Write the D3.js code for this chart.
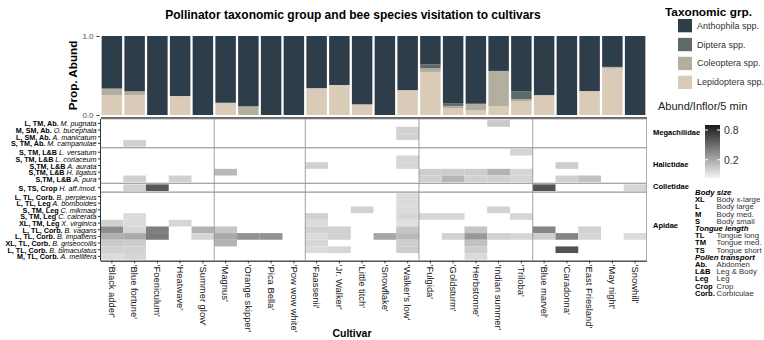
<!DOCTYPE html>
<html>
<head>
<meta charset="utf-8">
<script src="https://cdn.jsdelivr.net/npm/d3@7"></script>
<style>
  body { margin: 0; background: #fff; }
  text { font-family: "Liberation Sans", Arial, sans-serif; }
</style>
</head>
<body>
<div id="chart"></div>
<script>
// Cultivars, left to right (genus dividers after the names in genusEnds)
const cultivars = ["'Black adder'", "'Blue fortune'", "'Foeniculum'", "'Heatwave'", "'Summer glow'",
  "'Magnus'", "'Orange skipper'", "'Pica Bella'", "'Pow wow white'",
  "'Faassenii'", "'Jr. Walker'", "'Little titch'", "'Snowflake'", "'Walker's low'",
  "'Fulgida'", "'Goldsturm'", "'Herbstonne'", "'Indian summer'", "'Triloba'",
  "'Blue marvel'", "'Caradonna'", "'East Friesland'", "'May night'", "'Snowhill'"]
const genusEnds = ["'Summer glow'", "'Pow wow white'", "'Walker's low'", "'Triloba'"]

// Proportional abundance of each taxonomic group per cultivar
const taxa = ['Lepidoptera spp.', 'Coleoptera spp.', 'Diptera spp.', 'Anthophila spp.']
const lepidoptera = [.25, .25, 0, .24, 0, .155, 0, 0, 0, .34, .38, .135, 0, .315, .545, .085, .063, .113, .177, .252, 0, .303, .588, 0]
const coleoptera  = [.085, .05, 0, 0, 0, 0, .11, 0, 0, 0, 0, 0, 0, 0, .045, .03, .076, .445, .025, 0, 0, 0, .021, 0]
const diptera     = [0, 0, 0, 0, 0, 0, 0, 0, 0, 0, 0, 0, 0, 0, .05, .035, .012, 0, .1, 0, 0, 0, 0, 0]
const anthophila  = [.665, .70, 1, .76, 1, .845, .89, 1, 1, .66, .62, .865, 1, .685, .36, .85, .849, .442, .698, .748, 1, .697, .391, 1]

// Bee species (traits + name) grouped by family
const families = ['Megachilidae', 'Halictidae', 'Colletidae', 'Apidae']
const species = [
  ['L, TM, Ab.', 'M. pugnata', 'Megachilidae'],
  ['M, SM, Ab.', 'O. bucephala', 'Megachilidae'],
  ['L, SM, Ab.', 'A. manicatum', 'Megachilidae'],
  ['S, TM, Ab.', 'M. campanulae', 'Megachilidae'],
  ['S, TM, L&B', 'L. versatum', 'Halictidae'],
  ['S, TM, L&B', 'L. coriaceum', 'Halictidae'],
  ['S,TM, L&B', 'A. aurata', 'Halictidae'],
  ['S,TM, L&B', 'H. ligatus', 'Halictidae'],
  ['S,TM, L&B', 'A. pura', 'Halictidae'],
  ['S, TS, Crop', 'H. aff./mod.', 'Colletidae'],
  ['L, TL, Corb.', 'B. perplexus', 'Apidae'],
  ['L, TL, Leg', 'A. bomboides', 'Apidae'],
  ['S, TM, Leg', 'C. mikmaqi', 'Apidae'],
  ['S, TM, Leg', 'C. calcerata', 'Apidae'],
  ['XL, TM, Leg', 'X. virginica', 'Apidae'],
  ['L, TL, Corb.', 'B. vagans', 'Apidae'],
  ['L, TL, Corb.', 'B. impatiens', 'Apidae'],
  ['XL, TL, Corb.', 'B. griseocollis', 'Apidae'],
  ['L, TL, Corb.', 'B. bimaculatus', 'Apidae'],
  ['M, TL, Corb.', 'A. mellifera', 'Apidae']
]

// Abundance per inflorescence per 5 min: [cultivar, species, value]
const visits = [
  ["'Indian summer'", 'M. pugnata', .11],
  ["'Walker's low'", 'O. bucephala', .09],
  ["'Walker's low'", 'A. manicatum', .09],
  ["'Blue fortune'", 'M. campanulae', .09],
  ["'Triloba'", 'L. versatum', .08],
  ["'Walker's low'", 'L. coriaceum', .08],
  ["'Walker's low'", 'A. aurata', .08],
  ["'Faassenii'", 'A. aurata', .09],
  ["'Caradonna'", 'A. aurata', .10],
  ["'Magnus'", 'H. ligatus', .15],
  ["'Fulgida'", 'H. ligatus', .10],
  ["'Goldsturm'", 'H. ligatus', .10],
  ["'Herbstonne'", 'H. ligatus', .10],
  ["'Indian summer'", 'H. ligatus', .17],
  ["'Triloba'", 'H. ligatus', .08],
  ["'Blue fortune'", 'A. pura', .09],
  ["'Heatwave'", 'A. pura', .09],
  ["'Fulgida'", 'A. pura', .09],
  ["'Goldsturm'", 'A. pura', .16],
  ["'Herbstonne'", 'A. pura', .09],
  ["'Indian summer'", 'A. pura', .09],
  ["'Triloba'", 'A. pura', .08],
  ["'Caradonna'", 'A. pura', .09],
  ["'East Friesland'", 'A. pura', .13],
  ["'Blue fortune'", 'H. aff./mod.', .09],
  ["'Foeniculum'", 'H. aff./mod.', .55],
  ["'Blue marvel'", 'H. aff./mod.', .58],
  ["'Snowhill'", 'H. aff./mod.', .08],
  ["'Walker's low'", 'B. perplexus', .07],
  ["'Walker's low'", 'A. bomboides', .07],
  ["'Little titch'", 'C. mikmaqi', .09],
  ["'Indian summer'", 'C. mikmaqi', .09],
  ["'Walker's low'", 'C. mikmaqi', .07],
  ["'Blue fortune'", 'C. calcerata', .07],
  ["'Faassenii'", 'C. calcerata', .09],
  ["'Walker's low'", 'C. calcerata', .08],
  ["'Fulgida'", 'C. calcerata', .08],
  ["'Goldsturm'", 'C. calcerata', .08],
  ["'Triloba'", 'C. calcerata', .08],
  ["'Black adder'", 'X. virginica', .09],
  ["'Blue fortune'", 'X. virginica', .07],
  ["'Heatwave'", 'X. virginica', .08],
  ["'Faassenii'", 'X. virginica', .07],
  ["'Walker's low'", 'X. virginica', .06],
  ["'Black adder'", 'B. vagans', .30],
  ["'Blue fortune'", 'B. vagans', .08],
  ["'Foeniculum'", 'B. vagans', .36],
  ["'Summer glow'", 'B. vagans', .17],
  ["'Magnus'", 'B. vagans', .12],
  ["'Faassenii'", 'B. vagans', .09],
  ["'Jr. Walker'", 'B. vagans', .09],
  ["'Walker's low'", 'B. vagans', .12],
  ["'Herbstonne'", 'B. vagans', .12],
  ["'Blue marvel'", 'B. vagans', .33],
  ["'East Friesland'", 'B. vagans', .09],
  ["'Black adder'", 'B. impatiens', .18],
  ["'Blue fortune'", 'B. impatiens', .20],
  ["'Foeniculum'", 'B. impatiens', .38],
  ["'Summer glow'", 'B. impatiens', .08],
  ["'Magnus'", 'B. impatiens', .20],
  ["'Orange skipper'", 'B. impatiens', .28],
  ["'Pica Bella'", 'B. impatiens', .28],
  ["'Faassenii'", 'B. impatiens', .07],
  ["'Jr. Walker'", 'B. impatiens', .09],
  ["'Snowflake'", 'B. impatiens', .21],
  ["'Walker's low'", 'B. impatiens', .15],
  ["'Goldsturm'", 'B. impatiens', .09],
  ["'Herbstonne'", 'B. impatiens', .26],
  ["'Indian summer'", 'B. impatiens', .09],
  ["'Triloba'", 'B. impatiens', .08],
  ["'Blue marvel'", 'B. impatiens', .10],
  ["'Caradonna'", 'B. impatiens', .34],
  ["'East Friesland'", 'B. impatiens', .08],
  ["'Snowhill'", 'B. impatiens', .07],
  ["'Black adder'", 'B. griseocollis', .11],
  ["'Blue fortune'", 'B. griseocollis', .10],
  ["'Magnus'", 'B. griseocollis', .17],
  ["'Faassenii'", 'B. griseocollis', .08],
  ["'Walker's low'", 'B. griseocollis', .10],
  ["'Herbstonne'", 'B. griseocollis', .13],
  ["'Black adder'", 'B. bimaculatus', .09],
  ["'Blue fortune'", 'B. bimaculatus', .09],
  ["'Faassenii'", 'B. bimaculatus', .07],
  ["'Jr. Walker'", 'B. bimaculatus', .08],
  ["'Walker's low'", 'B. bimaculatus', .10],
  ["'Herbstonne'", 'B. bimaculatus', .10],
  ["'Caradonna'", 'B. bimaculatus', .58],
  ["'Black adder'", 'A. mellifera', .07],
  ["'Blue fortune'", 'A. mellifera', .08],
  ["'Herbstonne'", 'A. mellifera', .07]
]
const abundRange = [0.03, 0.94]
const abundTicks = [0.2, 0.8]

// Trait key
const traitKey = [
  ['Body size', [['XL', 'Body x-large'], ['L', 'Body large'], ['M', 'Body med.'], ['S', 'Body small']]],
  ['Tongue length', [['TL', 'Tongue long'], ['TM', 'Tongue med.'], ['TS', 'Tongue short']]],
  ['Pollen transport', [['Ab.', 'Abdomen'], ['L&B', 'Leg & Body'], ['Leg', 'Leg'], ['Crop', 'Crop'], ['Corb.', 'Corbiculae']]]
]

const taxaColor = {
  'Anthophila spp.': '#2e3d4a',
  'Diptera spp.': '#5e6a69',
  'Coleoptera spp.': '#b3af9e',
  'Lepidoptera spp.': '#d9cbb8'
}

const width = 764
const height = 340
const left = 100.5
const right = 646.5

const svg = d3.select('#chart').append('svg')
  .attr('width', width)
  .attr('height', height)

// Title
svg.append('text')
  .attr('x', 353).attr('y', 19)
  .attr('text-anchor', 'middle')
  .style('font-size', '12px').style('font-weight', 'bold')
  .text('Pollinator taxonomic group and bee species visitation to cultivars')

// Shared x scale
const x = d3.scaleBand().domain(cultivars).range([left, right])

// ---- Stacked proportion bars ----
const yBar = d3.scaleLinear().domain([0, 1]).range([115, 36])
const barRows = cultivars.map((c, i) => ({
  cultivar: c,
  'Lepidoptera spp.': lepidoptera[i],
  'Coleoptera spp.': coleoptera[i],
  'Diptera spp.': diptera[i],
  'Anthophila spp.': anthophila[i]
}))
const stacked = d3.stack().keys(taxa)(barRows)
const barInset = x.bandwidth() * 0.05

svg.append('g').selectAll('g')
  .data(stacked)
  .join('g')
    .attr('fill', d => taxaColor[d.key])
  .selectAll('rect')
  .data(d => d)
  .join('rect')
    .attr('x', d => x(d.data.cultivar) + barInset)
    .attr('width', x.bandwidth() - 2 * barInset)
    .attr('y', d => yBar(d[1]))
    .attr('height', d => Math.max(0, yBar(d[0]) - yBar(d[1])))

const barAxis = svg.append('g')
  .attr('transform', `translate(${left - 1},0)`)
  .call(d3.axisLeft(yBar).tickValues([0, 1]).tickFormat(d3.format('.1f')).tickSize(3).tickSizeOuter(0))
barAxis.select('.domain').remove()
barAxis.selectAll('line').attr('stroke', '#333')
barAxis.selectAll('text').attr('fill', '#4d4d4d').style('font-size', '8px')

svg.append('text')
  .attr('transform', `translate(77,${(yBar(0) + yBar(1)) / 2}) rotate(-90)`)
  .attr('text-anchor', 'middle')
  .style('font-size', '11.7px').style('font-weight', 'bold')
  .text('Prop. Abund')

svg.append('g')
  .attr('transform', 'translate(0,117.5)')
  .call(d3.axisBottom(x).tickValues([]).tickSizeOuter(0))
  .select('.domain').attr('stroke', '#333').attr('stroke-width', 1.6)

// ---- Heatmap facets ----
const rowH = 6.65
const pad = 1.1
const heatColor = d3.scaleSequentialSqrt(d3.interpolateRgb('#f4f4f4', '#1a1a1a')).domain(abundRange)

let panelTop = 119
const panels = families.map(f => {
  const rows = species.filter(s => s[2] === f).map(s => s[1])
  const y = d3.scaleBand().domain(rows).range([panelTop + pad, panelTop + pad + rows.length * rowH])
  const p = { family: f, y: y, top: panelTop, bottom: panelTop + 2 * pad + rows.length * rowH }
  panelTop = p.bottom
  return p
})
const yOf = name => panels.find(p => p.y.domain().includes(name)).y

const gHeat = svg.append('g')

panels.forEach(p => {
  gHeat.append('rect')
    .attr('x', left).attr('y', p.top)
    .attr('width', right - left).attr('height', p.bottom - p.top)
    .attr('fill', '#fff')
})

gHeat.selectAll('.cell')
  .data(visits)
  .join('rect')
    .attr('class', 'cell')
    .attr('x', d => x(d[0]))
    .attr('width', x.bandwidth())
    .attr('y', d => yOf(d[1])(d[1]))
    .attr('height', d => yOf(d[1]).bandwidth())
    .attr('fill', d => heatColor(d[2]))

// genus dividers
gHeat.selectAll('.genus')
  .data(genusEnds)
  .join('line')
    .attr('class', 'genus')
    .attr('x1', d => x(d) + x.bandwidth()).attr('x2', d => x(d) + x.bandwidth())
    .attr('y1', panels[0].top).attr('y2', panels[panels.length - 1].bottom)
    .attr('stroke', '#8c8c8c').attr('stroke-width', 0.8)

panels.forEach(p => {
  gHeat.append('rect')
    .attr('x', left).attr('y', p.top)
    .attr('width', right - left).attr('height', p.bottom - p.top)
    .attr('fill', 'none').attr('stroke', '#9a9a9a').attr('stroke-width', 0.8)

  const ax = gHeat.append('g')
    .attr('transform', `translate(${left},0)`)
    .call(d3.axisLeft(p.y).tickSize(2.5).tickSizeOuter(0).tickFormat(''))
  ax.select('.domain').attr('d', `M0,${p.top}V${p.bottom}`).attr('stroke', '#333')
  ax.selectAll('line').attr('stroke', '#333')

  // facet strip label
  svg.append('text')
    .attr('x', 653).attr('y', (p.top + p.bottom) / 2 - 1)
    .attr('dominant-baseline', 'central')
    .style('font-size', '7.5px').style('font-weight', 'bold')
    .text(p.family)
})

// species labels
const labels = svg.append('g').selectAll('text')
  .data(species)
  .join('text')
    .attr('x', left - 4)
    .attr('y', d => yOf(d[1])(d[1]) + yOf(d[1]).bandwidth() / 2)
    .attr('text-anchor', 'end')
    .attr('dominant-baseline', 'central')
    .style('font-size', '7.2px')
labels.append('tspan').style('font-weight', 'bold').text(d => d[0] + ' ')
labels.append('tspan').style('font-style', 'italic').text(d => d[1])

// bottom axis + cultivar labels
const bottomY = panels[panels.length - 1].bottom
const xAx = svg.append('g')
  .attr('transform', `translate(0,${bottomY})`)
  .call(d3.axisBottom(x).tickSize(2.5).tickSizeOuter(0))
xAx.select('.domain').attr('stroke', '#333')
xAx.selectAll('line').attr('stroke', '#333')
xAx.selectAll('text')
  .attr('transform', 'rotate(90)')
  .attr('x', 4).attr('y', 0).attr('dy', '0.35em')
  .attr('text-anchor', 'start')
  .attr('fill', '#111')
  .style('font-size', '9.4px')

svg.append('text')
  .attr('x', 352).attr('y', 337)
  .attr('text-anchor', 'middle')
  .style('font-size', '10.5px').style('font-weight', 'bold')
  .text('Cultivar')

// ---- Legends ----
svg.append('text')
  .attr('x', 665).attr('y', 16)
  .style('font-size', '11.8px').style('font-weight', 'bold')
  .text('Taxonomic grp.')

const keyOrder = ['Anthophila spp.', 'Diptera spp.', 'Coleoptera spp.', 'Lepidoptera spp.']
const keyG = svg.append('g').selectAll('g')
  .data(keyOrder)
  .join('g')
    .attr('transform', (d, i) => `translate(678,${19 + i * 18.9})`)
keyG.append('rect')
  .attr('width', 14).attr('height', 13.3)
  .attr('fill', d => taxaColor[d])
keyG.append('text')
  .attr('x', 19).attr('y', 6.7)
  .attr('dominant-baseline', 'central')
  .attr('fill', '#333')
  .style('font-size', '9px')
  .text(d => d)

svg.append('text')
  .attr('x', 658).attr('y', 110)
  .attr('fill', '#222')
  .style('font-size', '11px')
  .text('Abund/Inflor/5 min')

const yLeg = d3.scaleSqrt().domain(abundRange).range([178, 125])
const grad = svg.append('defs').append('linearGradient')
  .attr('id', 'abundGrad')
  .attr('x1', 0).attr('x2', 0).attr('y1', 1).attr('y2', 0)
grad.append('stop').attr('offset', 0).attr('stop-color', heatColor(abundRange[0]))
grad.append('stop').attr('offset', 1).attr('stop-color', heatColor(abundRange[1]))

svg.append('rect')
  .attr('x', 705).attr('y', yLeg(abundRange[1]))
  .attr('width', 15).attr('height', yLeg(abundRange[0]) - yLeg(abundRange[1]))
  .attr('fill', 'url(#abundGrad)')

const legTicks = svg.append('g').selectAll('g')
  .data(abundTicks)
  .join('g')
legTicks.append('line')
  .attr('x1', 705).attr('x2', 708)
  .attr('y1', d => yLeg(d)).attr('y2', d => yLeg(d))
  .attr('stroke', '#fff')
legTicks.append('line')
  .attr('x1', 717).attr('x2', 720)
  .attr('y1', d => yLeg(d)).attr('y2', d => yLeg(d))
  .attr('stroke', '#fff')
legTicks.append('text')
  .attr('x', 724).attr('y', d => yLeg(d))
  .attr('dominant-baseline', 'central')
  .attr('fill', '#333')
  .style('font-size', '10.5px')
  .text(d => d3.format('.1f')(d))

// trait key
let ty = 192.5
traitKey.forEach(([head, items]) => {
  svg.append('text')
    .attr('x', 695).attr('y', ty)
    .attr('dominant-baseline', 'central')
    .style('font-size', '7.8px').style('font-weight', 'bold').style('font-style', 'italic')
    .text(head)
  ty += 7.2
  items.forEach(([code, desc]) => {
    svg.append('text')
      .attr('x', 695).attr('y', ty)
      .attr('dominant-baseline', 'central')
      .style('font-size', '7.6px').style('font-weight', 'bold')
      .text(code)
    svg.append('text')
      .attr('x', 716.5).attr('y', ty)
      .attr('dominant-baseline', 'central')
      .attr('fill', '#333')
      .style('font-size', '7.8px')
      .text(desc)
    ty += 7.2
  })
})
</script>
</body>
</html>
